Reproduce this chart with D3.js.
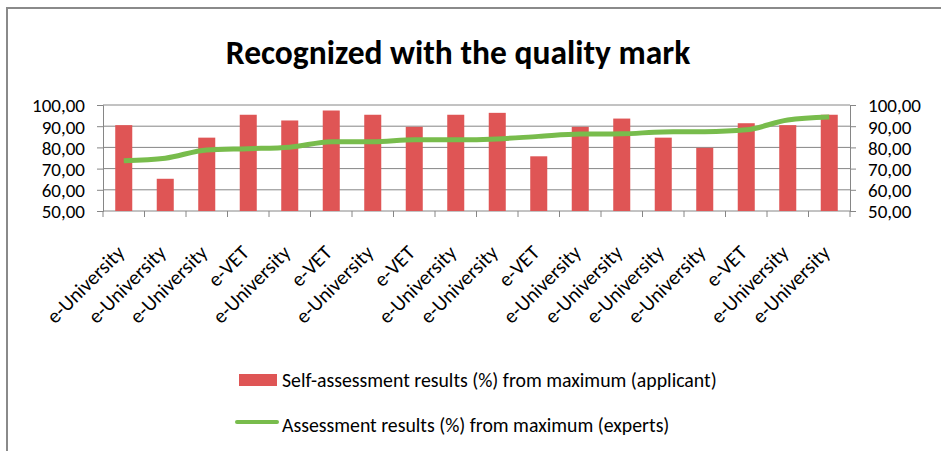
<!DOCTYPE html>
<html>
<head>
<meta charset="utf-8">
<script src="https://cdn.jsdelivr.net/npm/d3@7"></script>
<style>
  body { margin: 0; background: #fff; }
  svg { display: block; font-family: Carlito, Calibri, Lato, sans-serif; }
</style>
</head>
<body>
<svg id="chart" width="941" height="451"></svg>
<script>
// chart data
const categories = ["e-University", "e-University", "e-University", "e-VET", "e-University", "e-VET",
  "e-University", "e-VET", "e-University", "e-University", "e-VET", "e-University",
  "e-University", "e-University", "e-University", "e-VET", "e-University", "e-University"];
const selfValues = [90.5, 65.2, 84.6, 95.4, 92.7, 97.4, 95.4, 89.7, 95.4, 96.3, 75.8, 89.7,
  93.6, 84.6, 79.8, 91.4, 90.5, 95.4];
const expertValues = [73.7, 74.9, 78.8, 79.4, 80.1, 82.7, 82.7, 83.6, 83.6, 84.0, 85.2, 86.3,
  86.4, 87.3, 87.4, 88.3, 92.9, 94.3];
const yTicks = [50, 60, 70, 80, 90, 100];
const seriesNames = ["Self-assessment results (%) from maximum (applicant)",
  "Assessment results (%) from maximum (experts)"];

const svg = d3.select("#chart");
const plotLeft = 103, plotRight = 850, plotTop = 105, plotBottom = 211;
const gray = "#868686", red = "#df5555", green = "#78bc4c";

// outer frame (only top and left are visible in the crop)
svg.append("path")
  .attr("d", "M7,451V8H941")
  .attr("fill", "none")
  .attr("stroke", "#8a8a8a")
  .attr("stroke-width", 2);

svg.append("text")
  .attr("x", 458).attr("y", 64)
  .attr("text-anchor", "middle")
  .attr("font-size", 33.5)
  .attr("font-weight", "bold")
  .attr("fill", "#000")
  .text("Recognized with the quality mark");

const x = d3.scaleBand().domain(d3.range(categories.length)).range([plotLeft, plotRight]);
const y = d3.scaleLinear().domain([50, 100]).range([plotBottom, plotTop]);
const fmt = v => d3.format(".2f")(v).replace(".", ",");

// gridlines
svg.append("g").selectAll("line")
  .data(yTicks).enter().append("line")
  .attr("x1", plotLeft).attr("x2", plotRight)
  .attr("y1", d => y(d)).attr("y2", d => y(d))
  .attr("stroke", gray).attr("stroke-width", 1);

// axes
const leftAxis = svg.append("g")
  .attr("transform", `translate(${plotLeft},0)`)
  .call(d3.axisLeft(y).tickValues(yTicks).tickFormat(fmt).tickSize(6).tickPadding(12));
const rightAxis = svg.append("g")
  .attr("transform", `translate(${plotRight},0)`)
  .call(d3.axisRight(y).tickValues(yTicks).tickFormat(fmt).tickSize(6).tickPadding(12));
[leftAxis, rightAxis].forEach(a => {
  a.attr("font-family", null).attr("font-size", null);
  a.select(".domain").attr("stroke", gray);
  a.selectAll(".tick line").attr("stroke", gray);
  a.selectAll("text").attr("font-size", 19).attr("fill", "#000").attr("dy", "0.36em");
});

// category ticks at band boundaries
svg.append("g").selectAll("line")
  .data(d3.range(categories.length + 1)).enter().append("line")
  .attr("x1", i => i < categories.length ? x(i) : plotRight)
  .attr("x2", i => i < categories.length ? x(i) : plotRight)
  .attr("y1", plotBottom).attr("y2", plotBottom + 6)
  .attr("stroke", gray);

// bars
const barW = x.bandwidth() * 0.41;
svg.append("g").selectAll("rect")
  .data(selfValues).enter().append("rect")
  .attr("x", (d, i) => x(i) + (x.bandwidth() - barW) / 2)
  .attr("y", d => y(d))
  .attr("width", barW)
  .attr("height", d => y(50) - y(d))
  .attr("fill", red);

// expert line
const line = d3.line()
  .x((d, i) => x(i) + x.bandwidth() / 2)
  .y(d => y(d))
  .curve(d3.curveMonotoneX);
svg.append("path")
  .datum(expertValues)
  .attr("d", line)
  .attr("fill", "none")
  .attr("stroke", green)
  .attr("stroke-width", 5)
  .attr("stroke-linejoin", "round");

// rotated category labels
svg.append("g").selectAll("text")
  .data(categories).enter().append("text")
  .attr("transform", (d, i) => `translate(${x(i) + x.bandwidth() / 2 + 2},254) rotate(-45)`)
  .attr("text-anchor", "end")
  .attr("font-size", 20.5)
  .text(d => d);

// legend
const legend = svg.append("g");
legend.append("rect")
  .attr("x", 239).attr("y", 374).attr("width", 38).attr("height", 12)
  .attr("fill", red);
legend.append("line")
  .attr("x1", 237).attr("x2", 277).attr("y1", 422).attr("y2", 422)
  .attr("stroke", green).attr("stroke-width", 4).attr("stroke-linecap", "round");
legend.selectAll("text")
  .data(seriesNames).enter().append("text")
  .attr("x", 282)
  .attr("y", (d, i) => 387 + i * 45)
  .attr("font-size", 19.8)
  .text(d => d);
</script>
</body>
</html>
